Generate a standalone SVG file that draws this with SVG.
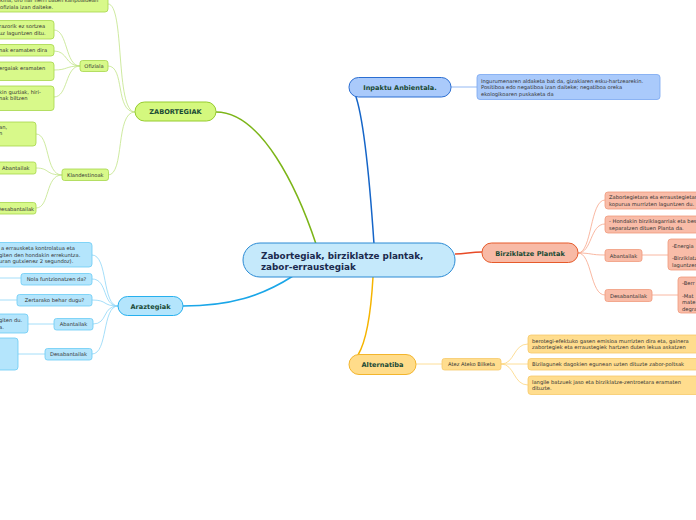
<svg xmlns="http://www.w3.org/2000/svg" width="696" height="520" viewBox="0 0 696 520">
<style>
text{font-family:"DejaVu Sans","Verdana",sans-serif}
.t{font-size:5.2px;fill:#333}
.tc{font-size:5.2px;fill:#333;text-anchor:middle}
.m{font-size:6.6px;font-weight:bold;fill:#1a4a35;text-anchor:middle}
.g{fill:#d8f98a;stroke:#a6d64a;stroke-width:0.8}
.gm{fill:#d4f87e;stroke:#96cc2e;stroke-width:1}
.b{fill:#b4e5fc;stroke:#6accf5;stroke-width:0.8}
.bm{fill:#b4e5fc;stroke:#27b0ee;stroke-width:1}
.i{fill:#aacafb;stroke:#78a6f0;stroke-width:0.8}
.im{fill:#aacafb;stroke:#2b6ed2;stroke-width:1}
.o{fill:#f9bca8;stroke:#f09a7c;stroke-width:0.8}
.om{fill:#f8baa6;stroke:#e65a2a;stroke-width:1}
.y{fill:#ffdd8e;stroke:#f6c96a;stroke-width:0.8}
.ym{fill:#ffdc8a;stroke:#f3b52c;stroke-width:1}
.cg{stroke:#c2e488;fill:none;stroke-width:0.8}
.cb{stroke:#8ed6f7;fill:none;stroke-width:0.8}
.co{stroke:#f7a68a;fill:none;stroke-width:0.8}
.cy{stroke:#fcd57e;fill:none;stroke-width:0.8}
.ci{stroke:#7aa7f0;fill:none;stroke-width:0.8}
</style>
<rect width="696" height="520" fill="#ffffff"/>
<g id="connectors">
<path d="M216,112 C262,112 298,190 316,244" stroke="#7cb518" stroke-width="1.5" fill="none"/>
<path d="M183,306 C230,306 262,296 293,276" stroke="#1aa6e8" stroke-width="1.5" fill="none"/>
<path d="M355,94 C363,115 369,170 374,244" stroke="#1565c8" stroke-width="1.5" fill="none"/>
<path d="M455,254 C466,254 470,252 482,252" stroke="#e84a26" stroke-width="1.5" fill="none"/>
<path d="M373,277 C371,312 367,340 358,355" stroke="#f5b400" stroke-width="1.5" fill="none"/>
<path class="cg" d="M135,112 C115,112 125,4 108,4"/>
<path class="cg" d="M135,112 C115,112 125,66 108,66"/>
<path class="cg" d="M135,112 C115,112 125,175 108,175"/>
<path class="cg" d="M80,66 C65,66 68,30 54,30"/>
<path class="cg" d="M80,66 C65,66 68,51 54,51"/>
<path class="cg" d="M80,66 C65,66 68,70 54,70"/>
<path class="cg" d="M80,66 C65,66 68,97 54,97"/>
<path class="cg" d="M62,175 C45,175 50,134 36,134"/>
<path class="cg" d="M62,175 C45,175 50,168 36,168"/>
<path class="cg" d="M62,175 C45,175 50,208 36,208"/>
<path class="cb" d="M118,306 C102,306 108,255 92,255"/>
<path class="cb" d="M118,306 C102,306 108,279 92,279"/>
<path class="cb" d="M118,306 C102,306 108,300 92,300"/>
<path class="cb" d="M118,306 C102,306 108,324 93,324"/>
<path class="cb" d="M118,306 C102,306 108,354 92,354"/>
<path class="cb" d="M0,278 L21,278"/>
<path class="cb" d="M0,300 L17,300"/>
<path class="cb" d="M28,324 L54,324"/>
<path class="cb" d="M18,354 L45,354"/>
<path class="ci" d="M451,87 L477,87"/>
<path class="co" d="M578,253 C592,253 590,200 605,200"/>
<path class="co" d="M578,253 C592,253 590,224 605,224"/>
<path class="co" d="M578,253 C592,253 590,255 605,255"/>
<path class="co" d="M578,253 C592,253 590,295 605,295"/>
<path class="co" d="M642,255 L668,255"/>
<path class="co" d="M652,295 L678,295"/>
<path class="cy" d="M416,364 L442,364"/>
<path class="cy" d="M501,364 C515,364 513,344 528,344"/>
<path class="cy" d="M501,364 L528,364"/>
<path class="cy" d="M501,364 C515,364 513,385 528,385"/>
</g>
<g id="center">
<rect x="243" y="243" width="212" height="34" rx="17" fill="#c5e9fb" stroke="#2a8ad4" stroke-width="1"/>
<text x="261" y="259" font-size="8.8" font-weight="bold" fill="#1b2a4e">Zabortegiak, birziklatze plantak,</text>
<text x="261" y="270" font-size="8.8" font-weight="bold" fill="#1b2a4e">zabor-erraustegiak</text>
</g>
<g id="zabortegiak">
<rect class="gm" x="135" y="102" width="81" height="19" rx="9.5"/>
<text class="m" x="175.5" y="114">ZABORTEGIAK</text>
</g>
<g id="z-desc">
<rect class="g" x="-10" y="-8" width="118" height="20" rx="3"/>
<text class="t" x="0" y="2">kina, oro har herri baten kanpoaldean</text>
<text class="t" x="0" y="8.5">ofiziala izan daiteke.</text>
</g>
<g id="ofiziala">
<rect class="g" x="80" y="60.5" width="28" height="11" rx="2.5"/>
<text class="tc" x="94" y="68">Ofiziala</text>
</g>
<g id="of-1">
<rect class="g" x="-10" y="20.5" width="64" height="18.5" rx="3"/>
<text class="t" x="-1" y="28">razorik ez sortzea</text>
<text class="t" x="-1" y="34.5">uz laguntzen ditu.</text>
</g>
<g id="of-2">
<rect class="g" x="-10" y="44.5" width="64" height="11.5" rx="3"/>
<text class="t" x="-1" y="52">nak eramaten dira</text>
</g>
<g id="of-3">
<rect class="g" x="-10" y="62" width="64" height="18.5" rx="3"/>
<text class="t" x="-1" y="69.5">ergaiak eramaten</text>
</g>
<g id="of-4">
<rect class="g" x="-10" y="86" width="64" height="24.5" rx="3"/>
<text class="t" x="-1" y="93.5">kin guztiak, hiri-</text>
<text class="t" x="-1" y="100">nak biltzen</text>
</g>
<g id="klandestinoak">
<rect class="g" x="62" y="169" width="46.5" height="11.5" rx="2.5"/>
<text class="tc" x="85.3" y="176.8">Klandestinoak</text>
</g>
<g id="kl-1">
<rect class="g" x="-10" y="122" width="46" height="24" rx="3"/>
<text class="t" x="-1" y="129">an,</text>
<text class="t" x="-1" y="135">n</text>
</g>
<g id="kl-2">
<rect class="g" x="-6" y="162" width="42" height="12" rx="2.5"/>
<text class="t" x="2" y="170">Abantailak</text>
</g>
<g id="kl-3">
<rect class="g" x="-12" y="202.5" width="48" height="11.5" rx="2.5"/>
<text class="t" x="-3" y="210.5">Desabantailak</text>
</g>
<g id="araztegiak">
<rect class="bm" x="118" y="296.5" width="65" height="19" rx="9.5"/>
<text class="m" x="150.5" y="308.5">Araztegiak</text>
</g>
<g id="ar-1">
<rect class="b" x="-10" y="242.5" width="102" height="24.5" rx="3"/>
<text class="t" x="1" y="250">a errausketa kontrolatua eta</text>
<text class="t" x="-1" y="256.5">giten den hondakin errekuntza.</text>
<text class="t" x="-1" y="263">uran gutxienez 2 segundoz).</text>
</g>
<g id="ar-2">
<rect class="b" x="21" y="273.5" width="71" height="11.5" rx="2.5"/>
<text class="tc" x="56.5" y="281.3">Nola funtzionatzen da?</text>
</g>
<g id="ar-3">
<rect class="b" x="17" y="294.5" width="75" height="11.5" rx="2.5"/>
<text class="tc" x="54.5" y="302.3">Zertarako behar dugu?</text>
</g>
<g id="ar-4">
<rect class="b" x="54" y="318.5" width="39" height="11.5" rx="2.5"/>
<text class="tc" x="73.5" y="326.3">Abantailak</text>
</g>
<g id="ar-4a">
<rect class="b" x="-10" y="314" width="38" height="19" rx="3"/>
<text class="t" x="-1" y="322">giten du.</text>
<text class="t" x="-1" y="328.5">a.</text>
</g>
<g id="ar-5">
<rect class="b" x="45" y="348.5" width="47" height="11.5" rx="2.5"/>
<text class="tc" x="68.5" y="356.3">Desabantailak</text>
</g>
<g id="ar-5a">
<rect class="b" x="-10" y="338" width="28" height="32" rx="3"/>
</g>
<g id="inpaktu">
<rect class="im" x="349" y="77.5" width="102" height="19.5" rx="9.5"/>
<text class="m" x="400" y="90">Inpaktu Anbientala.</text>
</g>
<g id="in-1">
<rect class="i" x="477" y="74.5" width="183" height="25" rx="3"/>
<text class="t" x="481" y="82.5">Ingurumenaren aldaketa bat da, gizakiaren esku-hartzearekin.</text>
<text class="t" x="481" y="89">Positiboa edo negatiboa izan daiteke; negatiboa oreka</text>
<text class="t" x="481" y="95.5">ekologikoaren puskaketa da</text>
</g>
<g id="birziklatze">
<rect class="om" x="482" y="243" width="96" height="19.5" rx="9.5"/>
<text class="m" x="530" y="255.5">Birziklatze Plantak</text>
</g>
<g id="bi-1">
<rect class="o" x="605" y="192" width="100" height="17" rx="3"/>
<text class="t" x="609" y="199">Zabortegietara eta erraustegietara</text>
<text class="t" x="609" y="205.5">kopurua murrizten laguntzen du.</text>
</g>
<g id="bi-2">
<rect class="o" x="605" y="216" width="100" height="17" rx="3"/>
<text class="t" x="609" y="223">- Hondakin birziklagarriak eta bes</text>
<text class="t" x="609" y="229.5">separatzen dituen Planta da.</text>
</g>
<g id="bi-3">
<rect class="o" x="605" y="249.5" width="37" height="12" rx="2.5"/>
<text class="tc" x="623.5" y="257.5">Abantailak</text>
</g>
<g id="bi-3a">
<rect class="o" x="668" y="239" width="40" height="31" rx="3"/>
<text class="t" x="672" y="248">-Energia</text>
<text class="t" x="672" y="260">-Birziklatz</text>
<text class="t" x="672" y="266.5">laguntzen</text>
</g>
<g id="bi-4">
<rect class="o" x="605" y="289.5" width="47" height="12" rx="2.5"/>
<text class="tc" x="628.5" y="297.5">Desabantailak</text>
</g>
<g id="bi-4a">
<rect class="o" x="678" y="277" width="30" height="36" rx="3"/>
<text class="t" x="682" y="285">-Berr</text>
<text class="t" x="682" y="297.5">-Mat</text>
<text class="t" x="682" y="304">mate</text>
<text class="t" x="682" y="310.5">degra</text>
</g>
<g id="alternatiba">
<rect class="ym" x="349" y="354.5" width="67" height="20" rx="10"/>
<text class="m" x="382.5" y="367">Alternatiba</text>
</g>
<g id="al-1">
<rect class="y" x="442" y="358.5" width="59" height="11.5" rx="2.5"/>
<text class="tc" x="471.5" y="366.3">Atez Ateko Bilketa</text>
</g>
<g id="al-1a">
<rect class="y" x="528" y="335" width="180" height="18" rx="3"/>
<text class="t" x="532" y="342.5">berotegi-efektuko gasen emisioa murrizten dira eta, gainera</text>
<text class="t" x="532" y="349">zabortegiek eta erraustegiek hartzen duten lekua askatzen</text>
</g>
<g id="al-1b">
<rect class="y" x="528" y="358.5" width="180" height="11.5" rx="3"/>
<text class="t" x="532" y="366.3">Bizilagunek dagokien egunean uzten dituzte zabor-poltsak</text>
</g>
<g id="al-1c">
<rect class="y" x="528" y="376" width="180" height="18.5" rx="3"/>
<text class="t" x="532" y="383.5">langile batzuek jaso eta birziklatze-zentroetara eramaten</text>
<text class="t" x="532" y="390">dituzte.</text>
</g>
</svg>
